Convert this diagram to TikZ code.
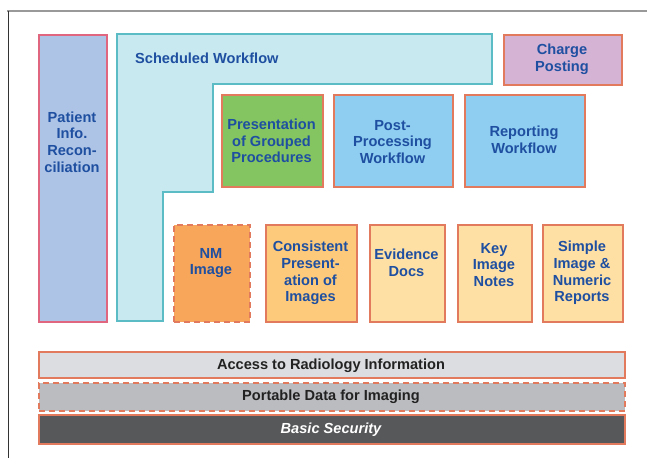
\documentclass[tikz,border=0pt]{standalone}
\usepackage{fontspec}
\setmainfont{Liberation Sans}
\begin{document}
\definecolor{txtblue}{HTML}{1E4FA0}
\definecolor{txtdark}{HTML}{222222}
\definecolor{edgeorange}{HTML}{E27A5E}
\definecolor{edgepink}{HTML}{E0667F}
\definecolor{edgeteal}{HTML}{5BBCC6}
\definecolor{fillpatient}{HTML}{AEC4E6}
\definecolor{fillsched}{HTML}{C8E9F0}
\definecolor{fillcharge}{HTML}{D4B3D5}
\definecolor{fillgreen}{HTML}{84C561}
\definecolor{fillsky}{HTML}{8FCDF1}
\definecolor{fillnm}{HTML}{F8A65A}
\definecolor{fillcons}{HTML}{FDCA7B}
\definecolor{fillpale}{HTML}{FEE0A5}
\definecolor{fillaccess}{HTML}{DCDDE0}
\definecolor{fillportable}{HTML}{BBBCBF}
\definecolor{fillsecurity}{HTML}{57585A}
\begin{tikzpicture}[x=1pt,y=-1pt,
  box/.style={draw=edgeorange, line width=2pt, rectangle, inner sep=0pt, anchor=north west},
  dashedbox/.style={box, dash pattern=on 6pt off 4pt},
  label/.style={font=\fontsize{14.6}{16.7}\selectfont\bfseries, text=txtblue, align=center, inner sep=0pt},
  barlabel/.style={label, text=txtdark, anchor=base}]
\useasboundingbox (0,0) rectangle (647,458);
% outer frame
\draw[line width=2pt, color=gray!80] (7,11) -- (647,11);
\draw[line width=0.8pt, color=black!80] (8,11) -- (8,458);

% patient info column
\node[box, draw=edgepink, fill=fillpatient, minimum width=68pt, minimum height=287pt] (pat) at (38,34) {};
\node[label] (patt) at (72,142) {Patient\\Info.\\Recon-\\ciliation};

% scheduled workflow L-shape
\draw[line width=2pt, draw=edgeteal, fill=fillsched]
  (117,34) -- (492,34) -- (492,84) -- (213,84) -- (213,192) -- (163,192) -- (163,321) -- (117,321) -- cycle;
\node[label, anchor=base west] (schedt) at (135,63) {Scheduled Workflow};

% charge posting
\node[box, fill=fillcharge, minimum width=118pt, minimum height=50pt] (chg) at (503,34) {};
\node[label] (chgt) at (562,59) {Charge\\Posting};

% second row
\node[box, fill=fillgreen, minimum width=101pt, minimum height=92pt] (pgp) at (221,94) {};
\node[label] (pgpt) at (271.5,141) {Presentation\\of Grouped\\Procedures};
\node[box, fill=fillsky, minimum width=119pt, minimum height=92pt] (post) at (333,94) {};
\node[label] (postt) at (392.5,142) {Post-\\Processing\\Workflow};
\node[box, fill=fillsky, minimum width=120pt, minimum height=92pt] (rep) at (464,94) {};
\node[label] (rept) at (524,140) {Reporting\\Workflow};

% third row
\node[dashedbox, fill=fillnm, minimum width=76pt, minimum height=97pt] (nm) at (173,224) {};
\node[label] (nmt) at (211,263) {NM\\Image};
\node[box, fill=fillcons, minimum width=91pt, minimum height=97pt] (cpi) at (265,224) {};
\node[label] (cpit) at (310.5,273) {Consistent\\Present-\\ation of\\Images};
\node[box, fill=fillpale, minimum width=75pt, minimum height=97pt] (ed) at (369,224) {};
\node[label] (edt) at (406.5,263) {Evidence\\Docs};
\node[box, fill=fillpale, minimum width=74pt, minimum height=97pt] (kin) at (457,224) {};
\node[label] (kint) at (494,265) {Key\\Image\\Notes};
\node[box, fill=fillpale, minimum width=80pt, minimum height=97pt] (sinr) at (542,224) {};
\node[label] (sinrt) at (582,273) {Simple\\Image \&\\Numeric\\Reports};

% infrastructure bars
\node[box, fill=fillaccess, minimum width=586pt, minimum height=26pt] (ari) at (38,351) {};
\node[barlabel] (arit) at (331,369) {Access to Radiology Information};
\node[dashedbox, fill=fillportable, minimum width=586pt, minimum height=28pt] (pdi) at (38,381.5) {};
\node[barlabel] (pdit) at (331,400.5) {Portable Data for Imaging};
\node[box, fill=fillsecurity, minimum width=586pt, minimum height=29pt] (bsec) at (38,413.5) {};
\node[barlabel, text=white, font=\fontsize{14.6}{16.7}\selectfont\bfseries\itshape] (bsect) at (331,433) {Basic Security};
\end{tikzpicture}
\end{document}
